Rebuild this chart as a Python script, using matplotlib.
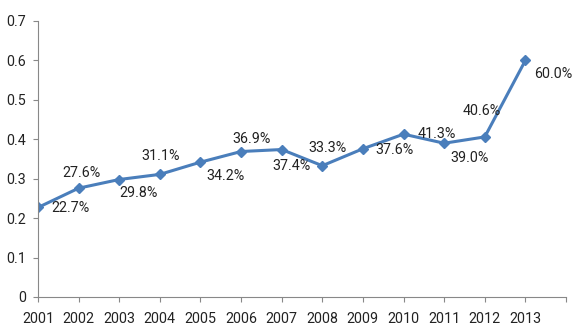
import matplotlib
matplotlib.use("Agg")
from matplotlib import pyplot as plt
import numpy as np

years = ['2001', '2002', '2003', '2004', '2005', '2006', '2007',
         '2008', '2009', '2010', '2011', '2012', '2013']
values = [0.227, 0.276, 0.298, 0.311, 0.342, 0.369, 0.374,
          0.333, 0.376, 0.413, 0.390, 0.406, 0.600]
labels = ['22.7%', '27.6%', '29.8%', '31.1%', '34.2%', '36.9%', '37.4%',
          '33.3%', '37.6%', '41.3%', '39.0%', '40.6%', '60.0%']

# where each data label sits relative to its marker (pixels, y up)
label_offsets = [(32, -1), (3, 15), (19, -13), (1, 18), (25, -14), (10, 13), (10, -16),
                 (5, 18), (32, -1), (33, 0), (25, -15), (-3, 26), (28, -14)]

plt.rcParams['font.family'] = ['Roboto', 'DejaVu Sans']
txt = '#222222'
axis_col = '#888888'
blue = '#4a7ebb'

fig = plt.figure(figsize=(5.8, 3.33), dpi=100)
ax = fig.add_axes([38/580, 36/333, (566-38)/580, (297-21)/333])

x = np.arange(len(years))
ax.plot(x, values, color=blue, lw=2.2, marker='D', markersize=5.4,
        markerfacecolor=blue, markeredgecolor=blue, solid_joinstyle='round')

for i in range(len(x)):
    dx, dy = label_offsets[i]
    ax.annotate(labels[i], (x[i], values[i]), xytext=(dx, dy),
                textcoords='offset pixels', ha='center', va='center',
                fontsize=10.3, color=txt)

ax.set_xlim(0, 13)
ax.set_ylim(0, 0.7)
ax.set_xticks(np.arange(14))
ax.set_xticklabels(years + [''])
ax.set_yticks(np.arange(0, 0.71, 0.1))
ax.set_yticklabels(['0', '0.1', '0.2', '0.3', '0.4', '0.5', '0.6', '0.7'])

for s in ['top', 'right']:
    ax.spines[s].set_visible(False)
for s in ['left', 'bottom']:
    ax.spines[s].set_color(axis_col)
    ax.spines[s].set_linewidth(0.8)
ax.tick_params(axis='both', direction='out', length=3.5, width=0.8,
               color=axis_col, labelcolor=txt, labelsize=10.3)
ax.tick_params(axis='y', pad=5)
ax.tick_params(axis='x', pad=7)

fig.savefig('out.png', dpi=100)
